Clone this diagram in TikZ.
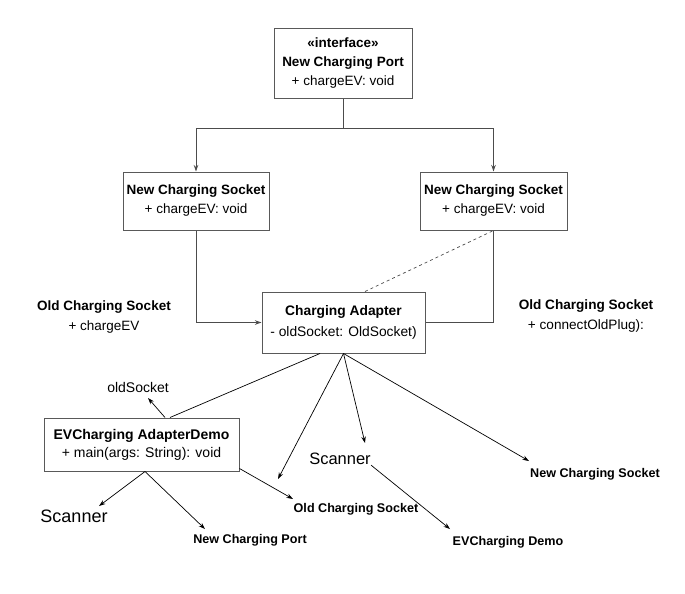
\documentclass[tikz,border=0pt]{standalone}
\usepackage{fontspec}
\setmainfont{Liberation Sans}
\usetikzlibrary{positioning,arrows.meta}

\newcommand{\boxtext}{\fontsize{13.5}{19}\selectfont}
\newcommand{\notetext}{\fontsize{12.6}{15}\selectfont\bfseries}

\begin{document}
\begin{tikzpicture}[x=1pt, y=-1pt,
    line width=0.7pt,
    box/.style={draw=black!65, line width=1pt, fill=white, align=center,
        inner sep=0pt, font=\boxtext},
    lbl/.style={align=center, inner sep=0pt},
    arr/.style={-{Stealth[length=6.5pt,width=4.5pt]}}]
    \useasboundingbox (0,0) rectangle (685,594);

    % classes
    \node[box, minimum width=138pt, minimum height=69pt] (port) at (343,63.5)
        {\textbf{«interface»}\\\textbf{New Charging Port}\\+ chargeEV: void};
    \node[box, minimum width=146pt, minimum height=58pt] (sockL) at (196,201)
        {\textbf{New Charging Socket}\\+ chargeEV: void};
    \node[box, minimum width=147pt, minimum height=58pt] (sockR) at (493.5,201)
        {\textbf{New Charging Socket}\\+ chargeEV: void};
    \node[box, minimum width=163pt, minimum height=61pt, font=\fontsize{13.8}{21}\selectfont]
        (adapter) at (343.5,322.5)
        {\textbf{Charging Adapter}\\- oldSocket: OldSocket)};
    \node[box, minimum width=195pt, minimum height=53pt, font=\fontsize{14}{18}\selectfont]
        (demo) at (141.5,444.5)
        {\textbf{EVCharging AdapterDemo}\\+ main(args: String): void};

    % loose labels
    \node[lbl, font=\fontsize{13.5}{20}\selectfont] (oldL) at (104,317)
        {\textbf{Old Charging Socket}\\+ chargeEV};
    \node[lbl, font=\fontsize{13.6}{20}\selectfont] (oldR) at (586,316)
        {\textbf{Old Charging Socket}\\+ connectOldPlug):};
    \node[lbl, font=\fontsize{14}{16}\selectfont] (sockVar) at (138,387) {oldSocket};
    \node[lbl, font=\fontsize{18}{20}\selectfont] (scanL) at (74,516) {Scanner};
    \node[lbl, font=\fontsize{16.5}{18}\selectfont] (scanM) at (340,459) {Scanner};
    \node[lbl, font=\notetext] (portN) at (250,540) {New Charging Port};
    \node[lbl, font=\notetext] (oldN) at (356,509) {Old Charging Socket};
    \node[lbl, font=\notetext] (demoN) at (508,542) {EVCharging Demo};
    \node[lbl, font=\notetext] (sockN) at (595,474) {New Charging Socket};

    % arrow ends
    \coordinate (fork) at (343,128);
    \coordinate (tA) at (278,479);
    \coordinate (tB) at (365,443);
    \coordinate (tC) at (529,461);
    \coordinate (tD) at (148,398);
    \coordinate (tE) at (99,506);
    \coordinate (tF) at (205,529);
    \coordinate (tG) at (293,499);
    \coordinate (tH) at (450,529);

    % upper part
    \draw[black!70, line width=0.9pt] (port.south) -- (fork);
    \draw[arr, black!70, line width=0.9pt] (fork) -| (sockL.north);
    \draw[arr, black!70, line width=0.9pt] (fork) -| (sockR.north);
    \draw[arr, black!70, line width=0.9pt] (sockL.south) |- (adapter.west);
    \draw[black!70, line width=0.9pt] (sockR.south) |- (adapter.east);
    \draw[dashed, black!70] ([xshift=21.5pt]adapter.north) -- (sockR.south);

    % lower part
    \draw ([xshift=-23.5pt]adapter.south) -- ([xshift=28.5pt]demo.north);
    \draw[arr] (adapter.south) -- (tA);
    \draw[arr] (adapter.south) -- (tB);
    \draw[arr] (adapter.south) -- (tC);
    \draw[arr] ([xshift=23.5pt]demo.north) -- (tD);
    \draw[arr] ([xshift=3.5pt]demo.south) -- (tE);
    \draw[arr] ([xshift=3.5pt]demo.south) -- (tF);
    \draw[arr] ([yshift=3pt]demo.south east) -- (tG);
    \draw[arr] (scanM.south east) -- (tH);
\end{tikzpicture}
\end{document}
